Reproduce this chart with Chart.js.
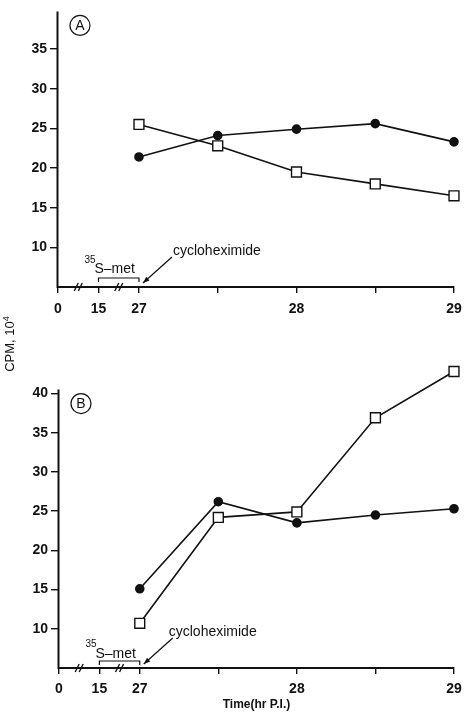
<!DOCTYPE html>
<html lang="en">
  <head>
    <meta charset="utf-8" />
    <script src="https://cdn.jsdelivr.net/npm/chart.js"></script>
    <title>CPM after cycloheximide</title>
    <style>
      body { margin: 0; background: #fff; }
      .page { position: relative; width: 470px; height: 716px; overflow: hidden; }
      #panelA { position: absolute; left: 0; top: 0; }
      #panelB { position: absolute; left: 0; top: 320px; }
      .yTitle {
        position: absolute; left: -30px; top: 336px; width: 80px; height: 16px;
        line-height: 16px; text-align: center; transform: rotate(-90deg);
        font: 13px "Liberation Sans", Arial, sans-serif; color: #111; white-space: nowrap;
      }
      .yTitle sup { font-size: 9px; position: relative; top: -5px; vertical-align: baseline; }
    </style>
  </head>
  <body>
    <div class="page">
      <canvas id="panelA" width="470" height="320"></canvas>
      <canvas id="panelB" width="470" height="396"></canvas>
      <div class="yTitle">CPM, 10<sup>4</sup></div>
    </div>
    <script>
      // values (CPM x 10^4), hours post infection
      const times = [27, 27.5, 28, 28.5, 29];
      const squaresA = [25.5, 22.8, 19.5, 18.0, 16.5];
      const circlesA = [21.4, 24.1, 24.9, 25.6, 23.3];
      const squaresB = [10.7, 24.2, 24.9, 36.9, 42.8];
      const circlesB = [15.1, 26.2, 23.5, 24.5, 25.3];

      const xTickHours = [0, 15, 27, 27.5, 28, 28.5, 29];
      const xTickLabels = ["0", "15", "27", "", "28", "", "29"];
      const yTicksA = [10, 15, 20, 25, 30, 35];
      const yTicksB = [10, 15, 20, 25, 30, 35, 40];

      const ink = "#111";
      const sans = '"Liberation Sans", Arial, sans-serif';

      // broken time axis: 0-15 and 15-27 h are squeezed in left of 27 h
      const breakGap = 0.257;
      function axisPos(h) {
        if (h >= 27) return h;
        if (h >= 15) return 27 - (breakGap * (27 - h)) / 12;
        return 27 - breakGap - (breakGap * (15 - h)) / 15;
      }

      const panelMarks = {
        id: "panelMarks",
        afterDraw(chart, args, o) {
          const ctx = chart.ctx;
          const area = chart.chartArea;
          const xs = chart.scales.x;
          const ys = chart.scales.y;
          const base = area.bottom;
          const top = ys.getPixelForValue(o.axisTop);
          const x15 = xs.getPixelForValue(axisPos(15));
          const x27 = xs.getPixelForValue(axisPos(27));
          ctx.save();
          ctx.strokeStyle = ink;
          ctx.fillStyle = ink;

          // y axis line (stops at the axis top, data may run past it)
          ctx.lineWidth = 2;
          ctx.beginPath();
          ctx.moveTo(area.left - 0.5, top);
          ctx.lineTo(area.left - 0.5, base + 1);
          ctx.stroke();

          // circled panel letter
          const cx = area.left + 22;
          const cy = top + 14;
          ctx.lineWidth = 1.2;
          ctx.beginPath();
          ctx.arc(cx, cy, 10, 0, Math.PI * 2);
          ctx.stroke();
          ctx.font = "14px " + sans;
          ctx.textAlign = "center";
          ctx.textBaseline = "middle";
          ctx.fillText(o.letter, cx, cy + 1);

          // axis break marks
          ctx.lineWidth = 1.4;
          [axisPos(7.5), axisPos(21)].forEach((v) => {
            const px = xs.getPixelForValue(v);
            [-2, 2].forEach((d) => {
              ctx.beginPath();
              ctx.moveTo(px + d - 2, base + 4);
              ctx.lineTo(px + d + 2, base - 4);
              ctx.stroke();
            });
          });

          // 35S-met labelling bracket
          ctx.lineWidth = 1.2;
          const by = base - o.bracketDy;
          ctx.beginPath();
          ctx.moveTo(x15, by + 4);
          ctx.lineTo(x15, by);
          ctx.lineTo(x27, by);
          ctx.lineTo(x27, by + 4);
          ctx.stroke();
          ctx.textAlign = "left";
          ctx.textBaseline = "alphabetic";
          ctx.font = "10px " + sans;
          ctx.fillText("35", x15 - 14, base - o.supDy);
          ctx.font = "14px " + sans;
          ctx.fillText("S\u2013met", x15 - 4, base - o.metDy);

          // cycloheximide arrow
          ctx.fillText("cycloheximide", x27 + o.cycloDx, base - 32);
          const tipX = x27 + 4, tipY = base - 4;
          const tailX = x27 + 33, tailY = base - 30;
          ctx.beginPath();
          ctx.moveTo(tailX, tailY);
          ctx.lineTo(tipX, tipY);
          ctx.stroke();
          const ang = Math.atan2(tipY - tailY, tipX - tailX);
          ctx.beginPath();
          ctx.moveTo(tipX, tipY);
          ctx.lineTo(tipX - 7 * Math.cos(ang - 0.35), tipY - 7 * Math.sin(ang - 0.35));
          ctx.lineTo(tipX - 7 * Math.cos(ang + 0.35), tipY - 7 * Math.sin(ang + 0.35));
          ctx.closePath();
          ctx.fill();
          ctx.restore();
        },
      };

      function makeChart(id, squares, circles, yMax, yTicks, o) {
        const pts = (arr) => times.map((t, i) => ({ x: t, y: arr[i] }));
        return new Chart(document.getElementById(id), {
          type: "line",
          data: {
            datasets: [
              {
                data: pts(squares),
                borderColor: ink,
                borderWidth: 1.6,
                tension: 0,
                pointStyle: "rect",
                pointRadius: 7,
                pointBackgroundColor: "#fff",
                pointBorderColor: ink,
                pointBorderWidth: 1.4,
                clip: false,
              },
              {
                data: pts(circles),
                borderColor: ink,
                borderWidth: 1.6,
                tension: 0,
                pointStyle: "circle",
                pointRadius: 4,
                pointBackgroundColor: ink,
                pointBorderColor: ink,
                clip: false,
              },
            ],
          },
          plugins: [panelMarks],
          options: {
            responsive: false,
            animation: false,
            events: [],
            layout: { padding: { top: o.top, right: 16, left: 0, bottom: 0 } },
            plugins: {
              legend: { display: false },
              tooltip: { enabled: false },
              panelMarks: o,
            },
            scales: {
              x: {
                type: "linear",
                bounds: "data",
                min: axisPos(0),
                max: 29,
                afterBuildTicks: (s) => {
                  s.ticks = xTickHours.map((h) => ({ value: axisPos(h) }));
                },
                afterFit: (s) => {
                  s.height = o.xHeight;
                },
                ticks: {
                  autoSkip: false,
                  maxRotation: 0,
                  padding: o.xPad,
                  color: ink,
                  font: { family: sans, size: 14, weight: "bold" },
                  callback: (v, i) => xTickLabels[i],
                },
                grid: { drawOnChartArea: false, tickLength: 6, color: ink, lineWidth: 1.4 },
                border: { color: ink, width: 2 },
                title: {
                  display: !!o.xTitle,
                  text: o.xTitle || "",
                  color: ink,
                  font: { family: sans, size: 12, weight: "bold" },
                  padding: { top: 0, bottom: 4 },
                },
              },
              y: {
                min: 5,
                max: yMax,
                afterBuildTicks: (s) => {
                  s.ticks = yTicks.map((v) => ({ value: v }));
                },
                afterFit: (s) => {
                  s.width = o.yWidth;
                },
                ticks: {
                  padding: 3,
                  color: ink,
                  font: { family: sans, size: 14, weight: "bold" },
                },
                grid: { drawOnChartArea: false, tickLength: 8, color: ink, lineWidth: 1.4 },
                border: { display: false },
              },
            },
          },
        });
      }

      makeChart("panelA", squaresA, circlesA, 39.75, yTicksA, {
        letter: "A", top: 10, axisTop: 39.75, xHeight: 33, xPad: 8, yWidth: 58,
        bracketDy: 9, supDy: 24, metDy: 14, cycloDx: 34,
      });
      makeChart("panelB", squaresB, circlesB, 43.5, yTicksB, {
        letter: "B", top: 46, axisTop: 40.5, xHeight: 48, xPad: 7, yWidth: 59,
        bracketDy: 7, supDy: 21, metDy: 10, cycloDx: 29,
        xTitle: "Time(hr P.I.)",
      });
    </script>
  </body>
</html>
